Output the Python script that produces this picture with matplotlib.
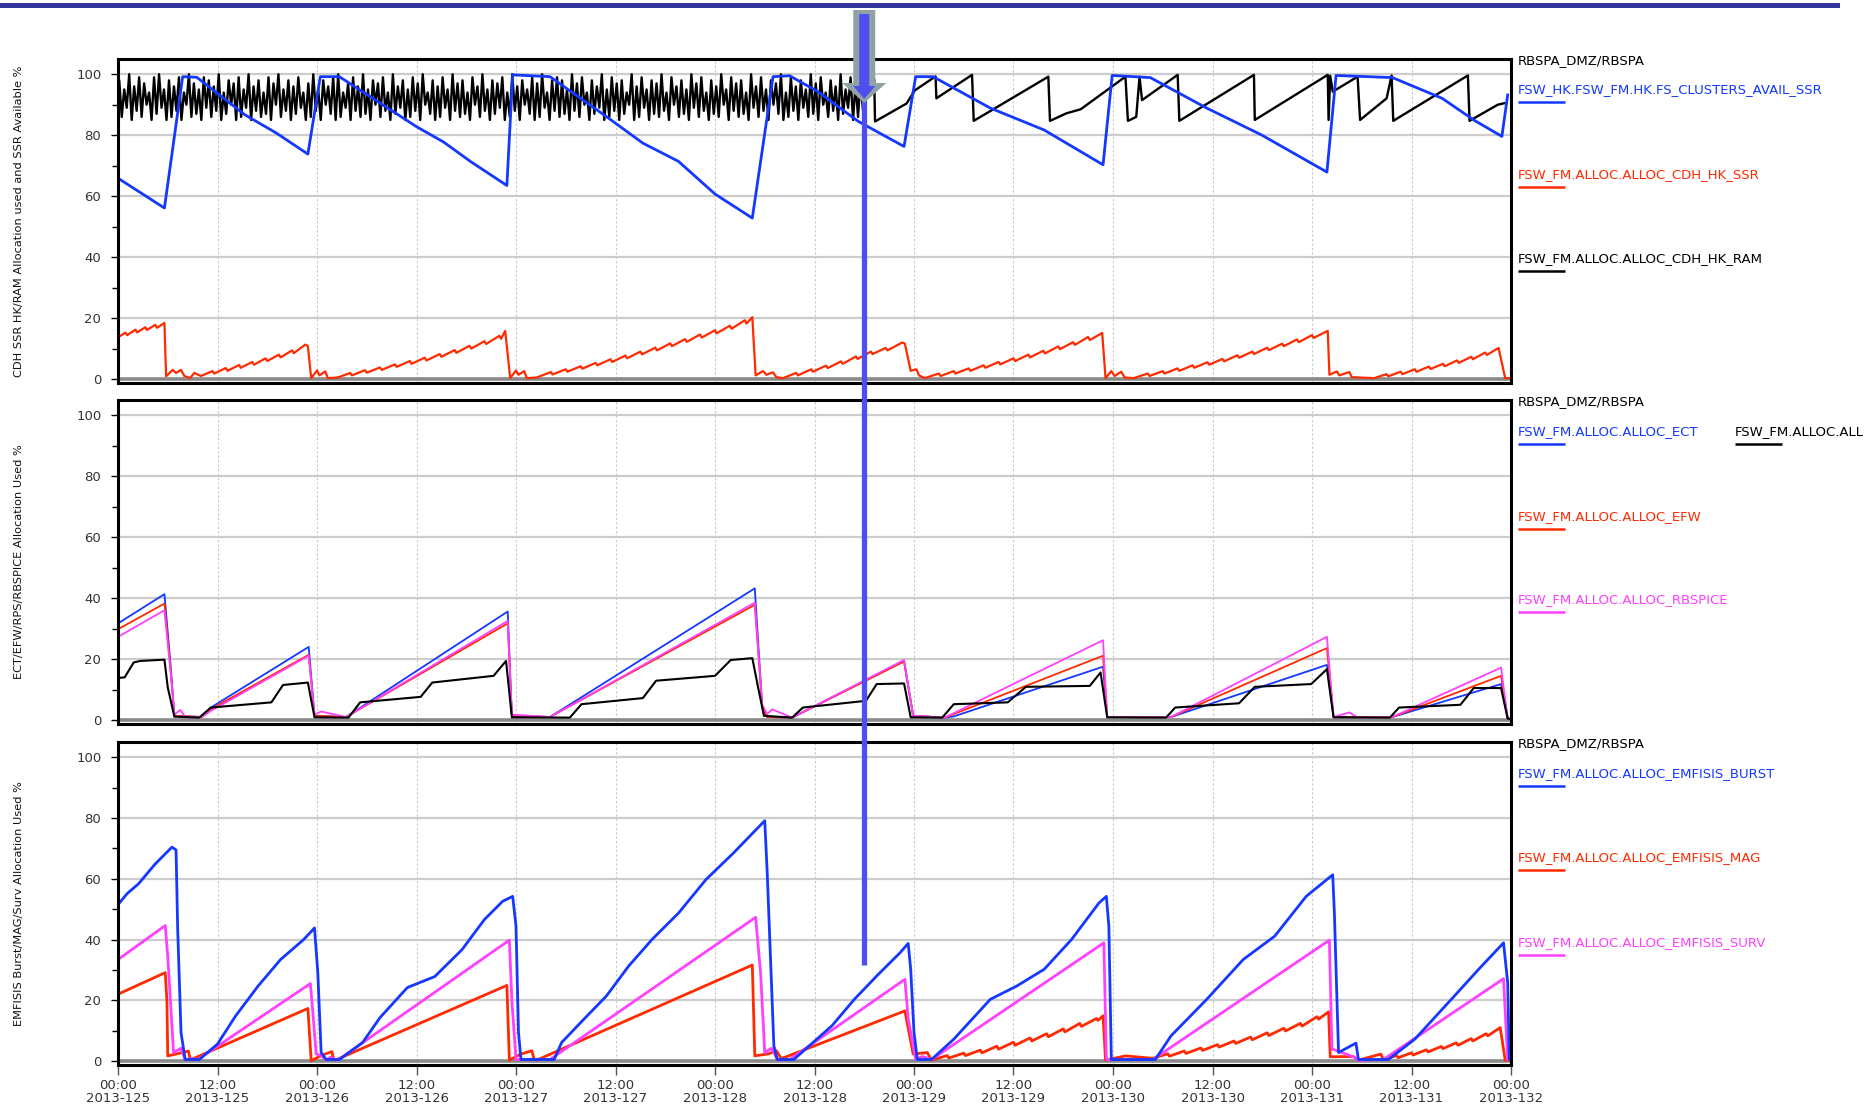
import numpy as np
import matplotlib
matplotlib.use('Agg')
import matplotlib.pyplot as plt
from matplotlib.patches import Polygon, Rectangle
from matplotlib.lines import Line2D

plt.rcParams['font.family'] = 'DejaVu Sans'

# time axis: hours since 2013-125 00:00
TICK_HOURS = [0, 12, 24, 36, 48, 60, 72, 84, 96, 108, 120, 132, 144, 156, 168]
TICK_TIMES = ['00:00', '12:00'] * 7 + ['00:00']
TICK_DAYS = ['2013-125', '2013-125', '2013-126', '2013-126', '2013-127', '2013-127',
             '2013-128', '2013-128', '2013-129', '2013-129', '2013-130', '2013-130',
             '2013-131', '2013-131', '2013-132']
MARKER_HOUR = 90.0

# ---- panel 1 : CDH SSR HK / RAM + SSR available
SSR_AVAIL_T = [0, 5.6, 7.8, 9.5, 15.3, 19.1, 22.9, 24.4, 26.7, 36.0, 39.3, 42.5, 46.9, 47.6,
               52.1, 58.9, 63.3, 67.6, 72.0, 76.5, 79.0, 81.0, 84.4, 89.3, 94.8, 96.2, 98.3,
               105.2, 111.7, 118.8, 119.9, 124.5, 131.3, 137.9, 145.8, 146.9, 153.7, 159.7,
               163.5, 166.9, 167.6]
SSR_AVAIL_V = [65.9, 56.1, 99.2, 99.0, 86.7, 80.7, 73.8, 99.2, 99.2, 82.8, 77.7, 71.4, 63.5, 99.8,
               99.2, 86.1, 77.4, 71.4, 60.7, 52.8, 99.2, 99.5, 94.3, 84.5, 76.3, 99.2, 99.2,
               88.9, 81.7, 70.3, 99.6, 98.9, 88.9, 80.1, 67.9, 99.6, 98.9, 92.1,
               85.0, 79.6, 93.2]

# (hour, %) vertices of the HK SSR allocation, small sawtooth steps included
HK_SSR_PTS = [
    (0, 13.7), (0.9, 15.2), (1.1, 14.4), (2.1, 16.2), (2.3, 15.3), (3.3, 17.0), (3.5, 16.1),
    (4.5, 17.8), (4.7, 16.8), (5.6, 18.4), (5.8, 0.9), (6.6, 3.0), (7.0, 2.0), (7.6, 3.0),
    (8.0, 1.0), (8.7, 0.3), (9.2, 2.0), (10.0, 1.0),
    (11.4, 2.6), (11.6, 1.8), (13.0, 3.6), (13.2, 2.7), (14.6, 4.6), (14.8, 3.7), (16.2, 5.6),
    (16.4, 4.7), (17.8, 6.8), (18.0, 5.9), (19.4, 8.0), (19.6, 7.1), (21.0, 9.4), (21.2, 8.5),
    (22.6, 11.3), (22.9, 10.8), (23.3, 0.3), (24.0, 2.8), (24.3, 1.2), (25.0, 2.5), (25.3, 0.3),
    (26.5, 0.5),
    (28.0, 2.0), (28.2, 1.2), (29.8, 2.9), (30.0, 2.1), (31.6, 3.8), (31.8, 3.0), (33.4, 4.8),
    (33.6, 4.0), (35.2, 5.9), (35.4, 5.0), (37.0, 7.0), (37.2, 6.1), (38.8, 8.2), (39.0, 7.3),
    (40.6, 9.5), (40.8, 8.6), (42.4, 10.9), (42.6, 10.0), (44.2, 12.4), (44.4, 11.5),
    (46.0, 14.2), (46.2, 13.2), (46.7, 15.8), (47.3, 0.3), (48.0, 2.8), (48.3, 1.4), (49.0, 2.6),
    (49.3, 0.3), (50.5, 0.5),
    (52.2, 2.3), (52.4, 1.5), (54.0, 3.2), (54.2, 2.4), (55.8, 4.2), (56.0, 3.4), (57.6, 5.3),
    (57.8, 4.5), (59.4, 6.5), (59.6, 5.6), (61.2, 7.7), (61.4, 6.8), (63.0, 9.0), (63.2, 8.1),
    (64.8, 10.3), (65.0, 9.4), (66.6, 11.7), (66.8, 10.8), (68.4, 13.1), (68.6, 12.2),
    (70.2, 14.6), (70.4, 13.6), (72.0, 16.0), (72.2, 15.0), (73.8, 17.5), (74.0, 16.5),
    (75.6, 19.3), (75.8, 18.2), (76.5, 20.3), (76.9, 1.2), (77.8, 2.6), (78.2, 1.4), (79.0, 2.2),
    (79.4, 0.6), (80.2, 0.3),
    (81.8, 2.0), (82.0, 1.2), (83.6, 3.2), (83.8, 2.4), (85.4, 4.4), (85.6, 3.6), (87.2, 5.8),
    (87.4, 5.0), (89.0, 7.4), (89.2, 6.6), (90.8, 9.0), (91.0, 8.2), (92.6, 10.2), (92.8, 9.4),
    (94.6, 12.0), (94.9, 11.6), (95.6, 2.7), (96.3, 3.2), (96.6, 1.2), (97.3, 0.3),
    (99.0, 1.8), (99.2, 1.0), (100.8, 2.6), (101.0, 1.8), (102.6, 3.5), (102.8, 2.7),
    (104.4, 4.5), (104.6, 3.7), (106.2, 5.6), (106.4, 4.8), (108.0, 6.8), (108.2, 5.9),
    (109.8, 8.0), (110.0, 7.1), (111.6, 9.3), (111.8, 8.4), (113.4, 10.7), (113.6, 9.8),
    (115.2, 12.1), (115.4, 11.2), (117.0, 13.8), (117.2, 12.8), (118.7, 15.1), (119.1, 0.3),
    (119.8, 2.6), (120.2, 1.0), (121.0, 2.4), (121.4, 0.5), (122.5, 0.3),
    (124.2, 1.8), (124.4, 1.0), (126.0, 2.6), (126.2, 1.8), (127.8, 3.5), (128.0, 2.7),
    (129.6, 4.5), (129.8, 3.7), (131.4, 5.5), (131.6, 4.7), (133.2, 6.6), (133.4, 5.8),
    (135.0, 7.8), (135.2, 7.0), (136.8, 9.0), (137.0, 8.2), (138.6, 10.3), (138.8, 9.5),
    (140.4, 11.6), (140.6, 10.8), (142.2, 13.0), (142.4, 12.1), (144.0, 14.4), (144.2, 13.5),
    (145.9, 15.8), (146.1, 1.4), (147.0, 2.5), (147.3, 1.2), (148.5, 2.3), (148.8, 0.6),
    (151.5, 0.3),
    (153.0, 1.6), (153.2, 0.9), (154.7, 2.4), (154.9, 1.6), (156.4, 3.2), (156.6, 2.4),
    (158.1, 4.1), (158.3, 3.3), (159.8, 5.0), (160.0, 4.2), (161.5, 6.1), (161.7, 5.3),
    (163.2, 7.3), (163.4, 6.5), (164.9, 8.7), (165.1, 7.9), (166.5, 10.2), (167.3, 0.3),
    (168, 0.3)]

# HK RAM: fast cycling for the first ~90 h (peak/trough every 0.6 h), then slow ramps
RAM_PEAKS = [98, 95, 100, 96, 99, 97, 94, 99, 100, 95, 98, 96, 99, 94, 100,
             97, 95, 99, 98, 96, 100, 94, 98, 97, 99, 95, 100, 96, 98, 94,
             99, 97, 100, 95, 98, 96, 99, 94, 97, 100, 95, 98, 96, 99, 100,
             94, 97, 99, 96, 100, 95, 98, 97, 99, 94, 100, 96, 98, 95, 99,
             97, 100, 94, 98, 96, 99, 95, 100, 97, 98, 94, 99, 96, 100, 95,
             98, 97, 99, 94, 100, 96, 98, 95, 99, 97, 100, 94, 98, 99, 98,
             95, 100, 97, 99, 94, 98, 96, 100, 95, 99, 97, 98, 94, 100, 96,
             99, 95, 98, 97, 100, 94, 99, 96, 98, 95, 100, 97, 99, 94, 98,
             96, 100, 95, 99, 97, 98, 94, 100, 96, 99, 95, 98, 97, 100, 94,
             99, 96, 98, 95, 100, 97, 99, 94, 98, 96, 100, 95, 99, 97, 98]
RAM_TROUGHS = [86, 89, 85, 88, 86, 90, 85, 87, 89, 85, 86, 88, 85, 90, 86,
               87, 85, 89, 86, 88, 85, 87, 90, 85, 86, 89, 85, 88, 86, 87,
               85, 90, 86, 88, 85, 87, 89, 85, 86, 88, 85, 90, 87, 85, 86,
               89, 85, 88, 86, 87, 85, 90, 86, 88, 85, 87, 89, 85, 86, 88,
               85, 90, 87, 85, 86, 89, 85, 88, 86, 87, 85, 90, 86, 88, 85,
               87, 89, 85, 86, 88, 85, 90, 87, 85, 86, 89, 85, 88, 86, 87,
               85, 88, 86, 90, 85, 87, 89, 85, 86, 88, 85, 87, 90, 85, 86,
               89, 85, 87, 86, 88, 85, 90, 86, 87, 85, 89, 86, 88, 85, 87,
               86, 90, 85, 88, 86, 87, 85, 89, 86, 88, 85, 90, 87, 85, 86,
               88, 85, 89, 86, 87, 85, 90, 86, 88, 85, 87, 89, 85, 86, 88]
RAM_TAIL_T = [90.0, 91.2, 91.3, 95.1, 96.1, 98.6, 98.7, 103.0, 103.2, 112.2, 112.4, 114.4, 116.1,
              121.5, 121.8, 122.8, 123.2, 123.5, 127.8, 128.0, 137.0, 137.1, 145.9, 146.0, 146.2,
              146.5, 149.5, 149.8, 153.0, 153.6, 153.8, 162.8, 163.0, 166.4, 167.2]
RAM_TAIL_V = [98.5, 98.5, 84.5, 90.4, 94.7, 99.3, 92.1, 99.8, 84.7, 99.2, 84.7, 87.2, 88.5,
              99.2, 84.7, 86.0, 99.2, 91.5, 99.8, 84.7, 99.8, 85.0, 99.8, 85.0, 99.5,
              94.3, 99.2, 85.0, 92.1, 99.6, 84.7, 99.6, 84.7, 90.0, 90.5]

# ---- panel 2 : ECT / EFW / RPS / RBSPICE
ECT_T = [0, 5.6, 6.3, 6.8, 10.1, 11.2, 23.0, 23.7, 27.5, 47.0, 47.5, 52.1, 76.8, 77.7, 78.3,
         81.3, 94.8, 95.9, 99.7, 100.8, 118.8, 119.3, 127.0, 145.8, 146.6, 153.7, 166.8, 167.6, 168]
ECT_V = [31.7, 41.3, 19.4, 1.4, 1.0, 4.1, 24.0, 1.4, 1.0, 35.6, 1.4, 1.0, 43.2, 4.1, 1.0,
         0.8, 19.4, 1.4, 0.8, 1.2, 17.5, 1.0, 1.0, 18.1, 1.0, 1.0, 11.8, 0.5, 0.3]
EFW_T = [0, 5.6, 6.3, 6.8, 10.1, 11.2, 23.0, 23.7, 27.5, 47.0, 47.5, 52.1, 76.8, 77.7, 78.3,
         81.3, 94.8, 95.9, 99.7, 118.8, 119.3, 127.0, 145.8, 146.6, 153.7, 166.8, 167.6, 168]
EFW_V = [29.8, 38.2, 18.0, 1.4, 1.0, 3.6, 21.4, 1.4, 1.0, 31.7, 1.4, 1.0, 37.8, 4.0, 1.0,
         0.8, 19.2, 1.4, 0.8, 21.1, 1.0, 1.0, 23.6, 1.0, 1.0, 14.5, 0.5, 0.3]
RBSPICE_T = [0, 5.6, 6.3, 6.8, 7.5, 8.2, 10.1, 11.2, 23.0, 23.7, 24.5, 27.5, 47.0, 47.5, 52.1,
             76.8, 77.7, 78.3, 78.9, 81.3, 94.8, 95.9, 99.7, 118.8, 119.3, 127.0, 145.8, 146.6,
             148.5, 149.5, 153.7, 166.8, 167.6, 168]
RBSPICE_V = [27.3, 36.0, 17.0, 1.8, 3.3, 0.8, 1.0, 3.0, 21.1, 1.8, 2.8, 1.0, 32.5, 1.8, 1.0,
             38.5, 5.0, 2.0, 3.5, 0.8, 19.7, 1.4, 0.8, 26.2, 1.0, 1.0, 27.3, 1.0,
             2.5, 0.8, 1.0, 17.2, 0.5, 0.3]
RPS_T = [0, 0.8, 1.9, 2.7, 5.6, 6.0, 6.8, 9.8, 11.2, 18.5, 19.9, 22.9, 23.7, 27.8, 29.2, 36.5,
         37.9, 45.3, 46.8, 47.5, 54.5, 55.9, 63.3, 64.9, 72.0, 73.9, 76.5, 77.2, 77.9, 81.3,
         82.6, 90.2, 91.5, 94.8, 95.6, 99.4, 100.8, 107.3, 109.5, 117.2, 118.5, 119.3, 126.4,
         127.5, 135.2, 137.1, 143.9, 145.8, 146.6, 153.4, 154.5, 161.9, 163.5, 166.8, 167.6, 168]
RPS_V = [13.8, 14.0, 18.9, 19.4, 19.8, 10.7, 1.1, 0.8, 4.1, 5.8, 11.5, 12.3, 0.9, 0.8, 5.8, 7.6,
         12.3, 14.5, 19.4, 0.9, 0.8, 5.2, 7.2, 12.9, 14.5, 19.7, 20.3, 10.7, 1.4, 0.8,
         4.1, 6.3, 11.8, 12.0, 0.9, 0.8, 5.2, 5.8, 10.9, 11.2, 15.6, 0.9, 0.8,
         4.1, 5.5, 10.9, 11.8, 16.7, 0.9, 0.8, 4.1, 5.0, 10.5, 10.5, 0.5, 0.3]

# ---- panel 3 : EMFISIS burst / MAG / survey
BURST_T = [0, 1.1, 2.5, 4.4, 6.5, 7.0, 7.2, 7.6, 8.1, 9.8, 12.0, 14.2, 16.9, 19.6, 22.4, 23.7,
           24.1, 24.5, 25.1, 26.7, 29.5, 31.6, 34.9, 38.2, 41.5, 44.2, 46.4, 47.6, 48.0, 48.3,
           48.6, 52.6, 53.5, 56.2, 58.9, 61.6, 64.4, 67.6, 70.9, 74.2, 78.0, 78.3, 79.1, 79.5,
           81.5, 86.1, 88.8, 91.5, 94.3, 95.3, 95.6, 96.0, 96.4, 98.1, 100.8, 105.2, 108.4,
           111.7, 115.0, 118.3, 119.2, 119.5, 119.8, 125.1, 127.0, 131.3, 135.7, 139.5, 143.3,
           146.5, 146.7, 147.2, 149.3, 149.6, 153.2, 156.4, 160.8, 164.1, 167.1, 167.6, 167.8, 168]
BURST_V = [51.5, 55.1, 58.4, 64.6, 70.4, 69.5, 43.3, 9.4, 0.5, 0.5, 5.6, 14.9, 24.7, 33.4, 40.0, 43.8,
           29.0, 2.8, 0.5, 0.5, 6.1, 14.3, 24.2, 27.8, 36.7, 46.6, 52.6, 54.2, 44.4, 9.4,
           0.5, 0.5, 6.1, 13.8, 21.4, 31.3, 40.0, 48.7, 59.7, 68.4, 79.1, 61.8, 5.0, 0.5,
           0.5, 11.6, 20.3, 28.0, 35.6, 38.7, 30.2, 9.4, 0.5, 0.5, 7.2, 20.3, 24.7,
           30.2, 40.0, 52.0, 54.2, 44.4, 0.5, 0.5, 8.3, 20.3, 33.4, 41.1, 54.2,
           61.3, 48.7, 2.8, 5.9, 0.5, 0.5, 7.2, 20.3, 30.2, 38.9, 25.8, 0.5, 0.5]
MAG_PTS = [
    (0, 22.0), (5.7, 29.1), (5.9, 19.8), (6.0, 1.7), (7.0, 2.3), (8.5, 3.3), (8.7, 0.5),
    (9.0, 0.7), (22.9, 17.3), (23.3, 0.1), (24.5, 1.8), (25.8, 3.1), (26.0, 0.5), (26.2, 0.3),
    (46.9, 24.9), (47.2, 0.3), (48.5, 2.2), (49.9, 3.4), (50.2, 0.5), (50.5, 0.3),
    (76.5, 31.6), (76.8, 1.7), (78.5, 2.4), (79.4, 3.4), (80.0, 0.8), (94.9, 16.5),
    (95.9, 2.3), (97.6, 2.8), (98.1, 0.3),
    (100.0, 1.8), (100.2, 1.0), (102.0, 2.6), (102.2, 1.8), (104.0, 3.6), (104.2, 2.7),
    (106.0, 4.9), (106.2, 3.9), (108.0, 6.2), (108.2, 5.2), (110.0, 7.6), (110.2, 6.6),
    (112.0, 9.0), (112.2, 8.0), (114.0, 10.6), (114.2, 9.6), (116.0, 12.4), (116.2, 11.4),
    (118.0, 14.0), (118.2, 13.4), (118.8, 14.9), (119.1, 0.3), (121.5, 1.7), (124.8, 0.9),
    (126.6, 2.4), (126.8, 1.6), (128.6, 3.3), (128.8, 2.5), (130.6, 4.3), (130.8, 3.5),
    (132.6, 5.4), (132.8, 4.6), (134.6, 6.6), (134.8, 5.8), (136.6, 7.9), (136.8, 7.0),
    (138.6, 9.3), (138.8, 8.4), (140.6, 10.8), (140.8, 9.9), (142.6, 12.4), (142.8, 11.5),
    (144.6, 14.6), (144.8, 13.8), (146.0, 16.2), (146.2, 1.4), (149.0, 1.5), (149.6, 0.3),
    (152.3, 2.3), (152.6, 0.5),
    (154.2, 1.8), (154.4, 1.1), (156.0, 2.7), (156.2, 2.0), (157.8, 3.7), (158.0, 3.0),
    (159.6, 4.8), (159.8, 4.1), (161.4, 6.0), (161.6, 5.2), (163.2, 7.4), (163.4, 6.6),
    (165.0, 9.0), (165.2, 8.3), (166.7, 11.0), (167.3, 0.3), (168, 0.3)]
SURV_T = [0, 5.7, 6.0, 6.7, 7.6, 8.1, 8.9, 9.5, 23.2, 23.5, 23.9, 24.5, 25.1, 25.6, 26.5, 47.2,
          47.5, 48.0, 52.1, 76.9, 77.5, 78.0, 78.8, 79.6, 81.0, 94.9, 95.3, 96.2, 97.0, 98.1,
          118.9, 119.2, 124.8, 146.1, 146.4, 148.9, 149.6, 152.6, 167.1, 167.6, 168]
SURV_V = [33.4, 44.6, 34.5, 2.8, 4.2, 0.5, 0.8, 0.3, 25.5, 16.0, 2.3, 1.8, 0.3, 1.2, 0.3, 39.8,
          20.0, 0.5, 0.5, 47.3, 29.0, 2.8, 4.2, 0.3, 0.5, 26.9, 14.0, 0.5, 1.5, 0.5,
          38.9, 0.5, 0.5, 39.8, 4.0, 1.5, 0.3, 0.5, 27.1, 0.5, 0.5]

BLUE = '#1438ff'
RED = '#ff2a00'
MAGENTA = '#ff40ff'
BLACK = '#000000'

W, H = 1864, 1110
fig = plt.figure(figsize=(W / 100, H / 100), dpi=100)
fig.patch.set_facecolor('white')

left, right = 118, 1511
panel_px = [(59, 383), (400, 724), (742, 1065)]
axes = []
for top, bot in panel_px:
    ax = fig.add_axes([left / W, 1 - bot / H, (right - left) / W, (bot - top) / H])
    axes.append(ax)


def style_axis(ax, ylabel, show_x):
    ax.set_xlim(0, 168)
    ax.set_ylim(-1.3, 105)
    ax.set_yticks([0, 20, 40, 60, 80, 100])
    ax.set_yticks([10, 30, 50, 70, 90], minor=True)
    ax.set_xticks(TICK_HOURS)
    ax.set_axisbelow(True)
    ax.yaxis.grid(True, color='#cccccc', lw=1.6)
    ax.xaxis.grid(True, color='#c8c8c8', lw=0.8, ls=(0, (2, 2)))
    ax.axhline(0, color='#8a8a8a', lw=2.6, zorder=1.5)
    for s in ax.spines.values():
        s.set_linewidth(2.2)
        s.set_color('black')
    ax.tick_params(axis='y', which='major', length=5, width=1, direction='out',
                   labelsize=9.5, pad=7, labelcolor='#333333')
    ax.tick_params(axis='y', which='minor', length=4, width=1, direction='out')
    if show_x:
        ax.set_xticklabels([t + '\n' + d for t, d in zip(TICK_TIMES, TICK_DAYS)],
                           linespacing=1.05)
        ax.tick_params(axis='x', length=7, width=1, direction='out', color='#555555',
                       labelsize=9.5, pad=3, labelcolor='#333333')
    else:
        ax.tick_params(axis='x', length=0, labelbottom=False)
    ax.set_ylabel(ylabel, fontsize=8.2, color='#111111')
    ax.yaxis.set_label_coords(-(left - 24) / (right - left), 0.5)


def legend_block(ax, entries):
    ph = ax.get_position().height * H
    pw = (right - left)
    ax.text(1 + 7 / pw, 1 - 2 / ph, 'RBSPA_DMZ/RBSPA', transform=ax.transAxes,
            ha='left', va='center', fontsize=9.5, color='black', clip_on=False)
    for label, color, xpx, ypx in entries:
        x0 = 1 + (xpx - right) / pw
        y0 = 1 - ypx / ph
        ax.text(x0, y0, label, transform=ax.transAxes, ha='left', va='center',
                fontsize=9.5, color=color, clip_on=False)
        ax.plot([x0, x0 + 47 / pw], [y0 - 12 / ph] * 2, transform=ax.transAxes,
                color=color, lw=1.8, clip_on=False, solid_capstyle='butt')


ax1, ax2, ax3 = axes

# panel 1
n_cyc = len(RAM_PEAKS)
ram_t = np.empty(2 * n_cyc)
ram_v = np.empty(2 * n_cyc)
ram_t[0::2] = np.arange(n_cyc) * 0.6 + 0.15
ram_t[1::2] = np.arange(n_cyc) * 0.6 + 0.45
ram_v[0::2] = RAM_PEAKS
ram_v[1::2] = RAM_TROUGHS
ram_t = np.concatenate([[0.0], ram_t, RAM_TAIL_T])
ram_v = np.concatenate([[90.0], ram_v, RAM_TAIL_V])
ax1.plot(ram_t, ram_v, color=BLACK, lw=1.7)
hk_t, hk_v = np.array(HK_SSR_PTS).T
ax1.plot(hk_t, hk_v, color=RED, lw=1.6)
ax1.plot(SSR_AVAIL_T, SSR_AVAIL_V, color=BLUE, lw=2.0)
style_axis(ax1, 'CDH SSR HK/RAM Allocation used and SSR Available %', False)
legend_block(ax1, [('FSW_HK.FSW_FM.HK.FS_CLUSTERS_AVAIL_SSR', BLUE, 1518, 31),
                   ('FSW_FM.ALLOC.ALLOC_CDH_HK_SSR', RED, 1518, 116),
                   ('FSW_FM.ALLOC.ALLOC_CDH_HK_RAM', BLACK, 1518, 200)])

# panel 2
ax2.plot(ECT_T, ECT_V, color=BLUE, lw=1.3)
ax2.plot(EFW_T, EFW_V, color=RED, lw=1.3)
ax2.plot(RBSPICE_T, RBSPICE_V, color=MAGENTA, lw=1.3)
ax2.plot(RPS_T, RPS_V, color=BLACK, lw=1.5)
style_axis(ax2, 'ECT/EFW/RPS/RBSPICE Allocation Used %', False)
legend_block(ax2, [('FSW_FM.ALLOC.ALLOC_ECT', BLUE, 1518, 32),
                   ('FSW_FM.ALLOC.ALL', BLACK, 1735, 32),
                   ('FSW_FM.ALLOC.ALLOC_EFW', RED, 1518, 117),
                   ('FSW_FM.ALLOC.ALLOC_RBSPICE', MAGENTA, 1518, 200)])

# panel 3
mag_t, mag_v = np.array(MAG_PTS).T
ax3.plot(mag_t, mag_v, color=RED, lw=2.0)
ax3.plot(SURV_T, SURV_V, color=MAGENTA, lw=2.0)
ax3.plot(BURST_T, BURST_V, color=BLUE, lw=2.0)
style_axis(ax3, 'EMFISIS Burst/MAG/Surv Allocation Used %', True)
legend_block(ax3, [('FSW_FM.ALLOC.ALLOC_EMFISIS_BURST', BLUE, 1518, 32),
                   ('FSW_FM.ALLOC.ALLOC_EMFISIS_MAG', RED, 1518, 116),
                   ('FSW_FM.ALLOC.ALLOC_EMFISIS_SURV', MAGENTA, 1518, 201)])


# decorations: top bar, marker arrow and line
def fx(px):
    return px / W


def fy(py):
    return 1 - py / H


fig.add_artist(Rectangle((0, fy(8)), fx(1840), 5 / H, transform=fig.transFigure,
                         color='#333399', lw=0))

xm = fig.transFigure.inverted().transform(ax1.transData.transform((MARKER_HOUR, 0)))[0]
xm_px = xm * W
fig.add_artist(Line2D([xm, xm], [fy(95), fy(965)], transform=fig.transFigure,
                      color='#4f4ff0', lw=3.8, solid_capstyle='butt', zorder=10))
grey = [(xm_px - 11, 10), (xm_px + 11, 10), (xm_px + 11, 83), (xm_px + 22, 83),
        (xm_px, 103), (xm_px - 22, 83), (xm_px - 11, 83)]
fig.add_artist(Polygon([(fx(a), fy(b)) for a, b in grey], closed=True,
                       transform=fig.transFigure, facecolor='#8fa3a6', edgecolor='none', zorder=11))
inner = [(xm_px - 5, 14), (xm_px + 5, 14), (xm_px + 5, 86), (xm_px + 11, 86),
         (xm_px, 99), (xm_px - 11, 86), (xm_px - 5, 86)]
fig.add_artist(Polygon([(fx(a), fy(b)) for a, b in inner], closed=True,
                       transform=fig.transFigure, facecolor='#4f4ff0', edgecolor='none', zorder=12))

fig.savefig('out.png', dpi=100)
